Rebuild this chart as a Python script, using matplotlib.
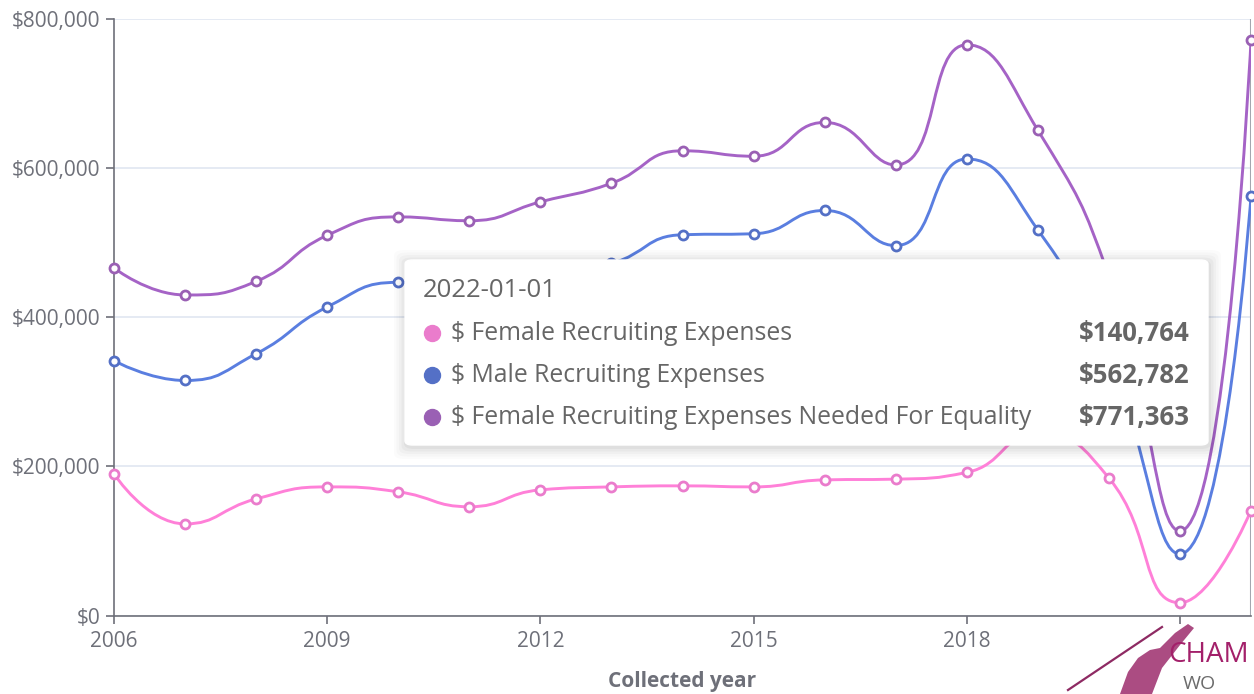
import numpy as np
import matplotlib
matplotlib.use('Agg')
import matplotlib.pyplot as plt
from matplotlib.path import Path
from matplotlib.patches import PathPatch, FancyBboxPatch, Polygon
from matplotlib.lines import Line2D
from matplotlib.ticker import FuncFormatter

plt.rcParams['font.family'] = ['Open Sans', 'DejaVu Sans']

# data
years = list(range(2006, 2023))
female = [190000, 123000, 156500, 172600, 166000, 146000, 168600, 172600, 174000,
          172600, 182000, 183000, 192000, 245000, 184500, 17400, 140764]
male = [341700, 315200, 351000, 413700, 446700, 440000, 456000, 472000, 510500,
        511800, 543000, 496000, 612000, 517000, 345000, 82800, 562782]
needed = [466000, 429800, 448000, 509700, 534400, 529300, 554500, 579500, 623000,
          615700, 661000, 604000, 765000, 650600, 455000, 113600, 771363]

series_names = ['$ Female Recruiting Expenses', '$ Male Recruiting Expenses',
                '$ Female Recruiting Expenses Needed For Equality']
tooltip_date = '2022-01-01'
tooltip_values = ['$140,764', '$562,782', '$771,363']

line_colors = ['#ff80d8', '#5a7ee0', '#a563c6']
dot_colors = ['#ea7ccc', '#5470c6', '#9a60b4']

W, H = 1254, 694
fig = plt.figure(figsize=(W / 100, H / 100), dpi=100)


def fx(px):
    return px / W


def fy(py):
    return 1 - py / H


ax = fig.add_axes([fx(114), fy(615.7), fx(1251) - fx(114), fy(18.7) - fy(615.7)])
ax.set_xlim(2006, 2022)
ax.set_ylim(0, 800000)


def smooth_path(ax, xs, ys, smooth=0.5):
    # echarts-style bezier smoothing, worked out in pixel space
    p = ax.transData.transform(np.column_stack([xs, ys]))
    n = len(p)
    verts = [p[0]]
    codes = [Path.MOVETO]
    cp0 = p[0].copy()
    for k in range(1, n):
        cur = p[k]
        prev = p[k - 1]
        if k < n - 1:
            nxt = p[k + 1]
            v = nxt - prev
            d0 = np.hypot(*(cur - prev))
            d1 = np.hypot(*(nxt - cur))
            r = d1 / (d0 + d1)
            ncp0 = cur + v * smooth * r
            ncp0 = np.minimum(ncp0, np.maximum(nxt, cur))
            ncp0 = np.maximum(ncp0, np.minimum(nxt, cur))
            v = ncp0 - cur
            cp1 = cur - v * d0 / d1
            cp1 = np.minimum(cp1, np.maximum(prev, cur))
            cp1 = np.maximum(cp1, np.minimum(prev, cur))
            v = cur - cp1
            ncp0 = cur + v * d1 / d0
        else:
            cp1 = cur.copy()
            ncp0 = cur.copy()
        verts += [cp0, cp1, cur]
        codes += [Path.CURVE4] * 3
        cp0 = ncp0
    return Path(ax.transData.inverted().transform(np.array(verts)), codes)


for vals, lc, dc in zip([female, male, needed], line_colors, dot_colors):
    ax.add_patch(PathPatch(smooth_path(ax, years, vals), facecolor='none',
                           edgecolor=lc, lw=2.1, zorder=2, capstyle='round'))
    ax.plot(years, vals, 'o', mfc='white', mec=dc, ms=6.5, mew=2.0, zorder=3,
            clip_on=False)

# axis pointer at the hovered date
ax.axvline(2022, color='#a3a7b0', lw=1.5, zorder=1)

# axes styling
axis_color = '#6e7079'
ax.set_yticks([0, 200000, 400000, 600000, 800000])
ax.yaxis.set_major_formatter(FuncFormatter(lambda v, p: '${:,.0f}'.format(v)))
ax.set_xticks([2006, 2009, 2012, 2015, 2018, 2021])
ax.set_xticklabels(['2006', '2009', '2012', '2015', '2018', ''])
ax.tick_params(axis='both', colors=axis_color, labelcolor=axis_color,
               labelsize=15, length=6, width=1.2, direction='out')
ax.tick_params(axis='y', pad=4)
ax.tick_params(axis='x', pad=5)
ax.grid(axis='y', color='#e0e6f1', lw=1.2, zorder=0)
ax.set_axisbelow(True)
for s in ['top', 'right']:
    ax.spines[s].set_visible(False)
for s in ['left', 'bottom']:
    ax.spines[s].set_color(axis_color)
    ax.spines[s].set_linewidth(1.2)
ax.set_xlabel('Collected year', fontsize=15, fontweight='bold', color=axis_color,
              labelpad=14)

# tooltip box with a soft shadow
bx0, by0, bx1, by1 = 405, 260, 1208, 445
for i, a in enumerate([0.035, 0.03, 0.025, 0.02, 0.015]):
    grow = 2 + i * 2.5
    fig.add_artist(FancyBboxPatch((fx(bx0 - grow + 1), fy(by1 + grow + 2)),
                                  fx(bx1 - bx0 + 2 * grow), (by1 - by0 + 2 * grow) / H,
                                  boxstyle='round,pad=0,rounding_size=0.008',
                                  transform=fig.transFigure, facecolor='black',
                                  edgecolor='none', alpha=a, zorder=5))
fig.add_artist(FancyBboxPatch((fx(bx0), fy(by1)), fx(bx1 - bx0), (by1 - by0) / H,
                              boxstyle='round,pad=0,rounding_size=0.006',
                              transform=fig.transFigure, facecolor='white',
                              edgecolor='#ffffff', lw=1, zorder=6))
fig.text(fx(423), fy(291), tooltip_date, fontsize=18.5, color='#666666',
         va='center', ha='left', zorder=7)
for i, (name, val, dc) in enumerate(zip(series_names, tooltip_values, dot_colors)):
    yy = 333 + i * 42
    fig.add_artist(Line2D([fx(432)], [fy(yy)], marker='o', ms=11.5, color=dc,
                          transform=fig.transFigure, zorder=7))
    fig.text(fx(451), fy(yy), name, fontsize=17.8, color='#666666',
             va='center', ha='left', zorder=7)
    fig.text(fx(1190), fy(yy), val, fontsize=18.5, color='#666666', fontweight='bold',
             va='center', ha='right', zorder=7)

# partial logo in the corner
fig.add_artist(Polygon([[fx(1120), fy(694)], [fx(1128), fy(672)], [fx(1138), fy(658)],
                        [fx(1150), fy(650)], [fx(1160), fy(648)], [fx(1175), fy(633)],
                        [fx(1188), fy(624)], [fx(1194), fy(628)], [fx(1180), fy(645)],
                        [fx(1162), fy(668)], [fx(1152), fy(694)]],
                       closed=True, transform=fig.transFigure, facecolor='#9c2c6c',
                       edgecolor='none', alpha=0.85, zorder=4))
fig.add_artist(Line2D([fx(1068), fx(1162)], [fy(690), fy(627)], color='#8e2a63', lw=1.6,
                      transform=fig.transFigure, zorder=4))
fig.text(fx(1168), fy(655), 'CHAM', fontsize=20, color='#a3206a', va='center',
         ha='left', zorder=4)
fig.text(fx(1183), fy(684), 'WO', fontsize=14, color='#6b6b6b', va='center',
         ha='left', zorder=4)

fig.savefig('out.png', dpi=100)
